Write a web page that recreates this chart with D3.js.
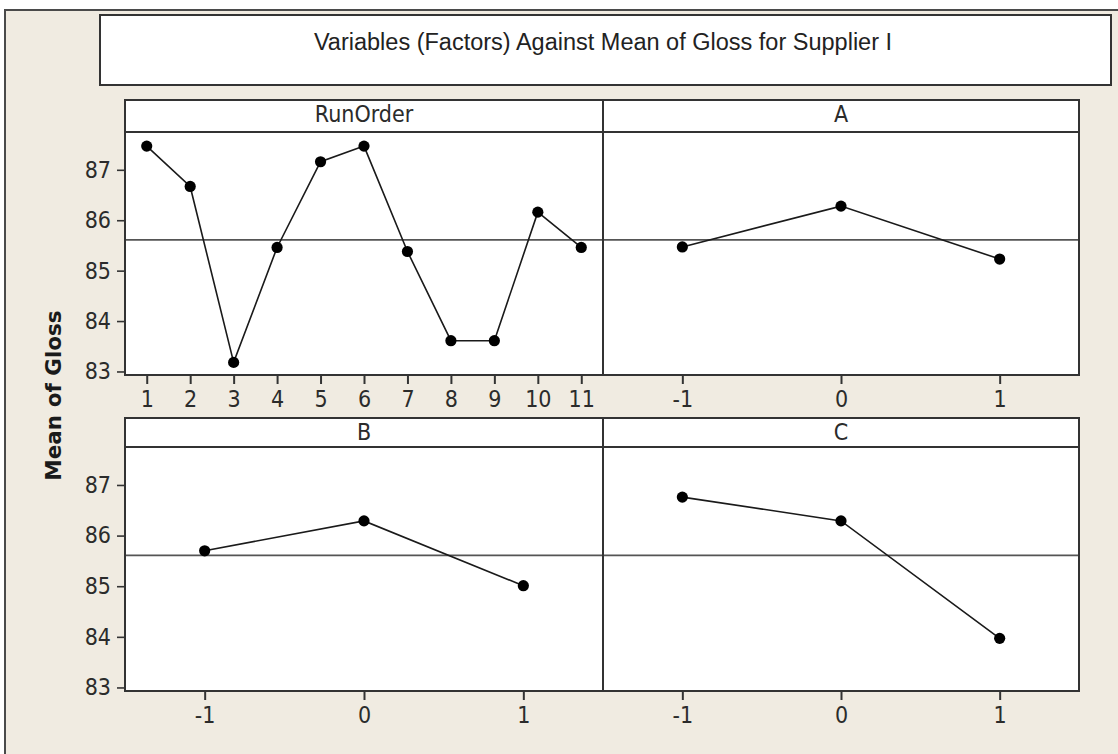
<!DOCTYPE html>
<html>

<head>
    <meta charset="utf-8">
    <title>Variables Against Mean of Gloss</title>
    <script src="https://d3js.org/d3.v7.min.js"></script>
    <style>
        body {
            margin: 0;
            background: white;
        }

        .tick-label {
            font-family: "DejaVu Sans Condensed", "DejaVu Sans", sans-serif;
            font-size: 23px;
            fill: #2b2b2b;
        }

        .strip-label {
            font-family: "DejaVu Sans Condensed", "DejaVu Sans", sans-serif;
            font-size: 23px;
            fill: #2b2b2b;
        }
    </style>
</head>

<body>
    <div id="chart"></div>
    <script>
        // values
        const chartTitle = "Variables (Factors) Against Mean of Gloss for Supplier I"
        const yLabel = "Mean of Gloss"
        const panelNames = ["RunOrder", "A", "B", "C"]
        const runOrder = [1, 2, 3, 4, 5, 6, 7, 8, 9, 10, 11]
        const runOrderMeans = [87.47, 86.67, 83.18, 85.46, 87.16, 87.47, 85.38, 83.61, 83.61, 86.16, 85.46]
        const levels = [-1, 0, 1]
        const aMeans = [85.47, 86.28, 85.23]
        const bMeans = [85.70, 86.29, 85.01]
        const cMeans = [86.76, 86.29, 83.97]
        const yTicks = [83, 84, 85, 86, 87]
        const overallMean = 85.61

        const width = 1118, height = 754
        const colEdges = [125, 603, 1079]
        const rows = [
            { stripTop: 100, plotTop: 132, plotBottom: 375 },
            { stripTop: 418, plotTop: 447, plotBottom: 691 }
        ]

        const panels = [
            { name: panelNames[0], xs: runOrder, ys: runOrderMeans, xDomain: [0.5, 11.5], row: 0, col: 0 },
            { name: panelNames[1], xs: levels, ys: aMeans, xDomain: [-1.5, 1.5], row: 0, col: 1 },
            { name: panelNames[2], xs: levels, ys: bMeans, xDomain: [-1.5, 1.5], row: 1, col: 0 },
            { name: panelNames[3], xs: levels, ys: cMeans, xDomain: [-1.5, 1.5], row: 1, col: 1 }
        ]

        const plainNumber = d => String(d) // keeps the ascii hyphen like the original

        const svg = d3.select("#chart")
            .append("svg")
            .attr("width", width)
            .attr("height", height)

        // beige graph region
        svg.append("rect")
            .attr("x", 5).attr("y", 10)
            .attr("width", 1300).attr("height", 900)
            .attr("fill", "#f0ebe1")
            .attr("stroke", "#4a4a4a")
            .attr("stroke-width", 2)

        // title box
        svg.append("rect")
            .attr("x", 100).attr("y", 15)
            .attr("width", 1011).attr("height", 70)
            .attr("fill", "white")
            .attr("stroke", "#333")
            .attr("stroke-width", 2)

        svg.append("text")
            .attr("x", 603).attr("y", 50)
            .attr("text-anchor", "middle")
            .style("font-family", "'Liberation Sans', Arial, sans-serif")
            .style("font-size", "23.5px")
            .style("fill", "#222")
            .text(chartTitle)

        svg.append("text")
            .attr("transform", "translate(61,395.5) rotate(-90)")
            .attr("text-anchor", "middle")
            .style("font-family", "'DejaVu Sans', sans-serif")
            .style("font-weight", "bold")
            .style("font-size", "21.5px")
            .style("fill", "#1a1a1a")
            .text(yLabel)

        const drawPanel = (p) => {
            const r = rows[p.row]
            const x0 = colEdges[p.col], x1 = colEdges[p.col + 1]
            const x = d3.scaleLinear().domain(p.xDomain).range([x0, x1])
            const y = d3.scaleLinear().domain([82.93, 87.75]).range([r.plotBottom, r.plotTop])
            const g = svg.append("g")

            g.append("rect")
                .attr("x", x0).attr("y", r.plotTop)
                .attr("width", x1 - x0).attr("height", r.plotBottom - r.plotTop)
                .attr("fill", "white")

            // reference line at the overall mean
            g.append("line")
                .attr("x1", x0).attr("x2", x1)
                .attr("y1", y(overallMean)).attr("y2", y(overallMean))
                .attr("stroke", "#555")
                .attr("stroke-width", 1.6)

            const pts = p.xs.map((v, i) => [v, p.ys[i]])
            g.append("path")
                .datum(pts)
                .attr("fill", "none")
                .attr("stroke", "#1a1a1a")
                .attr("stroke-width", 1.6)
                .attr("d", d3.line().x(d => x(d[0])).y(d => y(d[1])))

            g.selectAll("circle")
                .data(pts)
                .join("circle")
                .attr("cx", d => x(d[0]))
                .attr("cy", d => y(d[1]))
                .attr("r", 5.6)
                .attr("fill", "black")

            // strip
            g.append("rect")
                .attr("x", x0).attr("y", r.stripTop)
                .attr("width", x1 - x0).attr("height", r.plotTop - r.stripTop)
                .attr("fill", "white")
                .attr("stroke", "#333")
                .attr("stroke-width", 2)

            g.append("text")
                .attr("class", "strip-label")
                .attr("x", (x0 + x1) / 2)
                .attr("y", r.stripTop + 22)
                .attr("text-anchor", "middle")
                .text(p.name)

            g.append("rect")
                .attr("x", x0).attr("y", r.plotTop)
                .attr("width", x1 - x0).attr("height", r.plotBottom - r.plotTop)
                .attr("fill", "none")
                .attr("stroke", "#333")
                .attr("stroke-width", 2)

            const xAxis = g.append("g")
                .attr("transform", `translate(0,${r.plotBottom})`)
                .call(d3.axisBottom(x).tickValues(p.xs).tickSize(9).tickPadding(7).tickFormat(plainNumber))
            xAxis.select(".domain").remove()
            xAxis.selectAll(".tick line").attr("stroke", "#333").attr("stroke-width", 2)
            xAxis.selectAll(".tick text").attr("class", "tick-label").attr("font-family", null).attr("font-size", null)

            if (p.col === 0) {
                const yAxis = g.append("g")
                    .attr("transform", `translate(${x0},0)`)
                    .call(d3.axisLeft(y).tickValues(yTicks).tickSize(8).tickPadding(6).tickFormat(plainNumber))
                yAxis.select(".domain").remove()
                yAxis.selectAll(".tick line").attr("stroke", "#333").attr("stroke-width", 1.6)
                yAxis.selectAll(".tick text").attr("class", "tick-label").attr("font-family", null).attr("font-size", null)
            }
        }

        panels.forEach(drawPanel)
    </script>
</body>

</html>
